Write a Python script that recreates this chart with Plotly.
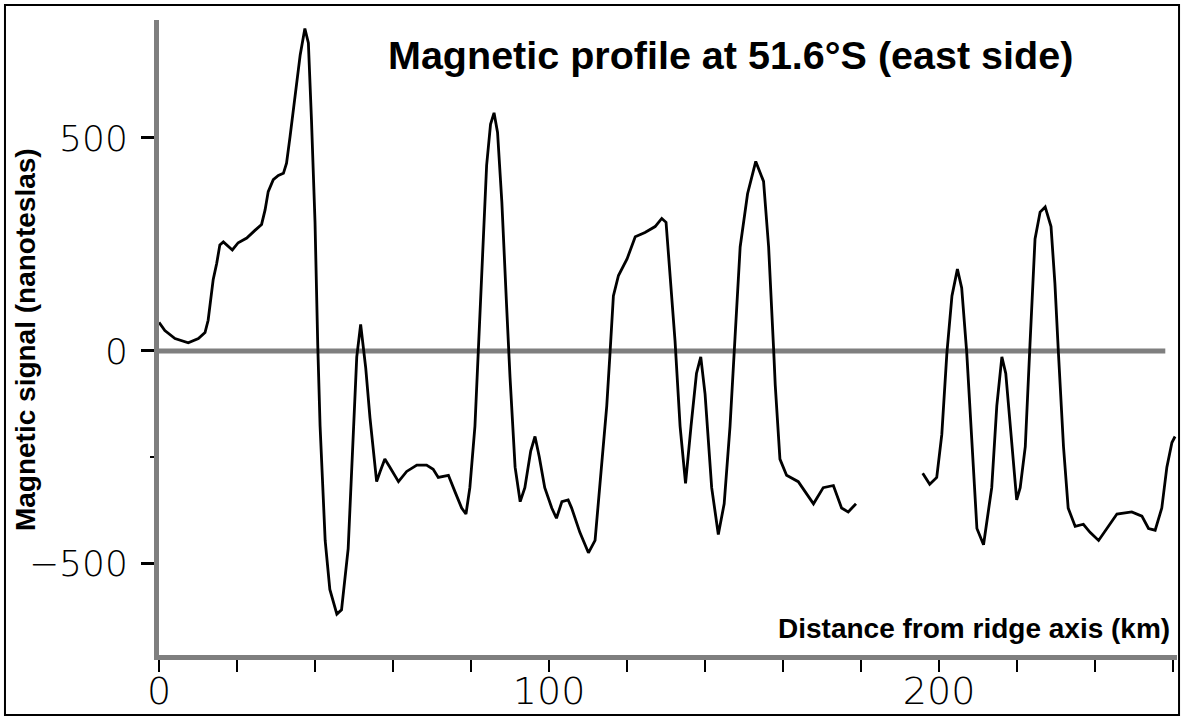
import plotly.graph_objects as go

# ---- data ----
distance_km = [
    0, 1.5, 4.1, 7.5, 10.1, 11.8, 12.6, 13.9, 14.8, 15.6, 16.5, 17.3, 18.8, 20.3,
    22.5, 24.6, 26.3, 27.2, 28.0, 29.3, 30.6, 31.9, 32.7, 33.6, 34.9, 36.2, 37.4,
    38.3, 39.1, 40.0, 40.7, 41.3, 42.6, 43.8, 45.6, 46.8, 48.5, 49.8, 50.7, 51.7,
    52.4, 53.0, 54.1, 55.8, 56.7, 57.9, 59.2, 61.4, 63.5, 66.1, 68.6, 70.3, 71.6,
    74.2, 75.9, 77.6, 78.7, 79.7, 81.0, 81.9, 83.0, 84.0, 85.0, 85.9, 86.8, 87.9,
    89.1, 90.0, 91.3, 92.6, 93.8, 95.3, 96.4, 97.5, 98.9, 100.7, 101.9, 103.3,
    104.9, 105.8, 107.9, 110.1, 111.8, 113.5, 114.8, 115.7, 116.5, 117.8, 120.0,
    122.1, 124.6, 127.2, 128.9, 130.0, 131.0, 132.3, 133.6, 135.0, 136.4, 137.8,
    138.9, 140.0, 141.7, 143.4, 144.9, 146.4, 147.7, 149.0, 150.9, 153.0, 155.0,
    156.3, 157.6, 158.0, 159.2, 160.9, 163.9, 167.8, 170.3, 172.9, 175.0, 176.7,
    178.7,
    None,
    195.8, 197.6, 199.4, 200.7, 202.0, 203.3, 204.7, 205.8, 207.1, 208.4, 209.7,
    211.4, 213.5, 214.8, 216.1, 217.1, 218.2, 219.9, 220.8, 222.1, 223.3, 224.6,
    225.9, 227.2, 228.7, 229.7, 230.6, 231.9, 233.1, 234.9, 237.0, 238.7, 240.9,
    243.0, 245.6, 249.4, 252.0, 253.7, 255.4, 257.1, 258.4, 259.7, 260.5,
]
signal_nT = [
    67, 48, 29, 19, 29, 43, 72, 168, 206, 249, 256, 249, 237, 254,
    265, 283, 297, 331, 374, 402, 412, 417, 441, 503, 599, 695, 757,
    723, 541, 302, 14, -177, -445, -560, -618, -608, -464, -177, -14, 62,
    14, -40, -158, -307, -283, -254, -273, -307, -283, -268, -268, -278, -297,
    -292, -331, -369, -383, -321, -177, 5, 225, 436, 532, 559, 513, 350,
    110, -62, -273, -354, -321, -235, -201, -249, -321, -369, -393, -354,
    -350, -369, -426, -474, -445, -273, -129, 5, 129, 177, 216,
    268, 278, 292, 311, 302, 187, 24, -177, -311, -177, -53,
    -14, -101, -321, -431, -359, -177, 34, 244, 369, 445, 398,
    244, 0, -81, -254, -292, -307, -359, -321, -316, -369, -378,
    -359,
    None,
    -287, -313, -297, -196, -5, 129, 192, 148, -5, -225, -417,
    -455, -321, -129, -14, -53, -177, -350, -321, -225, 14, 263,
    326, 338, 292, 158, -5, -225, -369, -412, -407, -426, -445,
    -417, -383, -378, -388, -417, -421, -369, -273, -215, -201,
]

x_tick_vals = [0, 20, 40, 60, 80, 100, 120, 140, 160, 180, 200, 220, 240, 260]
x_tick_text = ["0", "", "", "", "", "100", "", "", "", "", "200", "", "", ""]
y_tick_vals = [-500, 0, 500]
y_tick_text = ["\u2212500", "0", "500"]

title_text = "Magnetic profile at 51.6\u00b0S (east side)"
x_title = "Distance from ridge axis (km)"
y_title = "Magnetic signal (nanoteslas)"

zero_line_end_km = 258
x_range = [0, 261]
y_range = [-714, 777]

fig = go.Figure()
fig.add_trace(go.Scatter(
    x=distance_km, y=signal_nT, mode="lines",
    line=dict(color="black", width=2.8), connectgaps=False,
    hoverinfo="skip", showlegend=False,
))

gray = "#7f7f7f"

fig.update_layout(
    width=1186, height=717,
    margin=dict(l=159, r=9, t=20, b=62, pad=0),
    paper_bgcolor="white", plot_bgcolor="white",
    xaxis=dict(
        range=x_range, showline=True, linecolor=gray, linewidth=5,
        automargin=False,
        ticks="outside", tickvals=x_tick_vals, ticktext=x_tick_text,
        ticklen=12, tickwidth=2, tickcolor="black", ticklabelstandoff=-14,
        showgrid=False, zeroline=False,
        tickfont=dict(family="DejaVu Sans", size=38, color="black", weight=200),
    ),
    yaxis=dict(
        range=y_range, showline=True, linecolor=gray, linewidth=5,
        automargin=False,
        ticks="outside", tickvals=y_tick_vals, ticktext=y_tick_text,
        ticklen=13, tickwidth=3, tickcolor="black", ticklabelstandoff=6,
        minor=dict(tickvals=[-250], ticklen=4, tickwidth=2, tickcolor="black", ticks="outside"),
        showgrid=False, zeroline=False,
        tickfont=dict(family="DejaVu Sans", size=36, color="black", weight=200),
    ),
    shapes=[
        dict(type="line", xref="x", yref="y", x0=0, x1=zero_line_end_km, y0=0, y1=0,
             line=dict(color=gray, width=5), layer="below"),
        dict(type="rect", xref="paper", yref="paper",
             x0=-0.1513, x1=1.0020, y0=-0.0945, y1=1.0236,
             line=dict(color="black", width=2), layer="above"),
    ],
    annotations=[
        dict(text=title_text, xref="paper", yref="paper", x=0.561, y=0.945,
             xanchor="center", yanchor="middle", showarrow=False,
             font=dict(family="Liberation Sans, Arial", size=39.5,
                       color="black", weight="bold")),
        dict(text=x_title, xref="paper", yref="paper", x=0.995, y=0.0425,
             xanchor="right", yanchor="middle", showarrow=False,
             font=dict(family="Liberation Sans, Arial", size=28, color="black", weight="bold")),
        dict(text=y_title, xref="paper", yref="paper", x=-0.1316, y=0.496,
             xanchor="center", yanchor="middle", showarrow=False, textangle=-90,
             font=dict(family="Liberation Sans, Arial", size=28, color="black", weight="bold")),
    ],
)

fig.write_html(
    "out.html",
    config={"displayModeBar": False},
    post_script="document.body.style.margin='0';document.documentElement.style.overflow='hidden';",
)
